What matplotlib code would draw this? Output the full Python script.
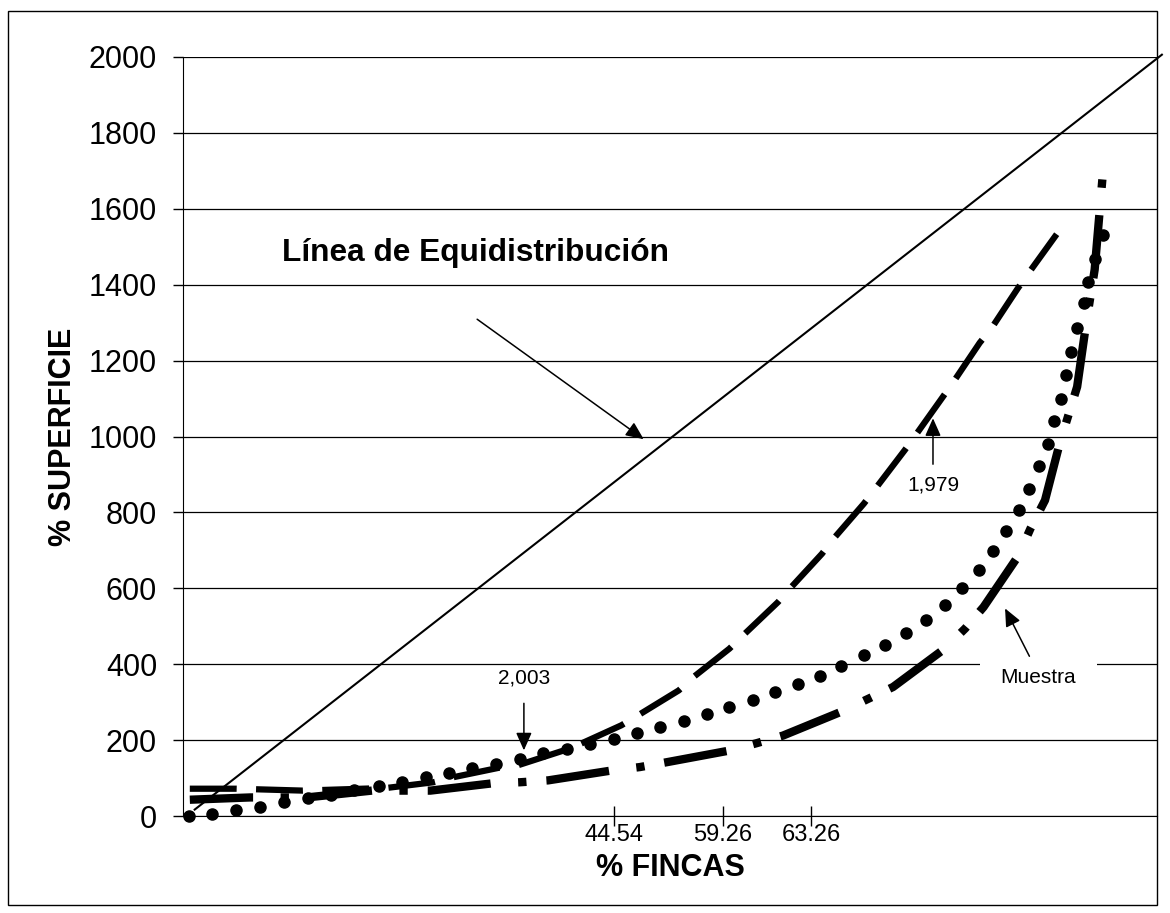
import matplotlib
matplotlib.use('Agg')
import matplotlib.pyplot as plt
from matplotlib.patches import Rectangle

plt.rcParams['font.family'] = ['Liberation Sans', 'DejaVu Sans']

# linea de equidistribucion
equi_x = [1.2, 100.5]
equi_y = [17, 2006]

# curva 1,979 (trazo discontinuo)
c1979_x = [0.7, 5.5, 12.3, 20.9, 25.7, 27.7, 32.4, 34.3, 39.6, 40.8, 45.0, 46.7,
           50.9, 52.4, 56.1, 57.5, 61.1, 62.3, 65.6, 66.8, 69.9, 71.1, 74.1, 75.2,
           78.0, 79.1, 81.8, 83.0, 84.9, 85.7, 86.8, 89.7]
c1979_y = [72, 72, 67, 74, 89, 102, 127, 133, 177, 190, 239, 265,
           331, 366, 441, 476, 564, 599, 691, 731, 823, 863, 964, 1003,
           1104, 1144, 1247, 1285, 1359, 1390, 1430, 1533]

# curva 2,003 (puntos)
c2003_x = [0.65, 3.0, 5.4, 7.9, 10.4, 12.8, 15.2, 17.6, 20.1, 22.5, 24.9, 27.3,
           29.7, 32.1, 34.6, 37.0, 39.4, 41.8, 44.2, 46.6, 49.0, 51.4, 53.8, 56.1,
           58.5, 60.8, 63.1, 65.4, 67.6, 69.9, 72.1, 74.2, 76.3, 78.2, 80.0, 81.7,
           83.2, 84.5, 85.8, 86.9, 87.9, 88.8, 89.4, 90.1, 90.7, 91.2, 91.8, 92.5,
           92.9, 93.6, 94.5]
c2003_y = [0, 6, 16, 25, 36, 47, 56, 69, 79, 91, 102, 114,
           126, 138, 151, 166, 177, 190, 204, 219, 234, 250, 270, 287,
           306, 326, 347, 370, 395, 423, 451, 483, 517, 557, 601, 647,
           698, 751, 806, 863, 922, 981, 1042, 1100, 1162, 1223, 1285, 1351,
           1408, 1469, 1531]

# muestra (raya y punto)
muestra_x = [0.7, 6.9, 12.7, 19.4, 25.4, 31.7, 34.6, 37.5, 44.0, 46.9, 49.7, 56.2,
             58.9, 61.6, 67.5, 72.9, 78.2, 80.3, 82.2, 85.8, 87.0, 88.5, 90.0, 90.9,
             91.8, 92.7, 93.6, 94.4]
muestra_y = [43, 49, 49, 67, 67, 86, 89, 94, 120, 129, 142, 173,
             192, 212, 274, 340, 441, 494, 551, 687, 757, 832, 981, 1056,
             1131, 1293, 1440, 1681]

fincas_ticks = [44.3, 55.4, 64.5]
fincas_labels = ['44.54', '59.26', '63.26']
sup_ticks = list(range(0, 2001, 200))

fig = plt.figure(figsize=(11.7, 9.13), dpi=100)
ax = fig.add_axes([0.1564, 0.1062, 0.8325, 0.8314])

ax.plot(equi_x, equi_y, color='black', lw=1.5, clip_on=False)
ax.plot(c1979_x, c1979_y, color='black', lw=4.5, dashes=(7.5, 3.1))
ax.plot(muestra_x, muestra_y, color='black', lw=6.0, dashes=(7.6, 3.3, 1.0, 2.4))
ax.plot(c2003_x, c2003_y, 'o', color='black', ms=8, clip_on=False)

ax.set_xlim(0, 100)
ax.set_ylim(0, 2000)
ax.set_yticks(sup_ticks)
ax.set_xticks(fincas_ticks)
ax.set_xticklabels(fincas_labels)
ax.yaxis.grid(True, color='black', lw=0.9)
ax.set_axisbelow(True)
ax.spines['top'].set_visible(False)
ax.spines['right'].set_visible(False)
ax.tick_params(axis='y', direction='out', length=7.2, width=1, pad=11.5, labelsize=22)
ax.tick_params(axis='x', direction='inout', length=14.4, width=1, pad=-1.8, labelsize=17)

ax.set_ylabel('% SUPERFICIE', fontsize=22, fontweight='bold')
ax.yaxis.set_label_coords(-0.123, 0.5)
ax.yaxis.label.set_va('center')
ax.set_xlabel('% FINCAS', fontsize=22, fontweight='bold')
ax.xaxis.set_label_coords(0.5, -0.0685)
ax.xaxis.label.set_va('center')

arrow = dict(arrowstyle='-|>,head_length=0.9,head_width=0.4', mutation_scale=12,
             lw=1.1, color='black', shrinkA=0, shrinkB=0)

ax.text(10.2, 1483, 'Línea de Equidistribución', fontsize=22.8, fontweight='bold',
        ha='left', va='center')
ax.annotate('', xy=(47.3, 993), xytext=(30.2, 1309), arrowprops=arrow)

ax.text(35.0, 365, '2,003', fontsize=15, ha='center', va='center')
ax.annotate('', xy=(35.0, 173), xytext=(35.0, 297), arrowprops=arrow)

ax.text(77.0, 872, '1,979', fontsize=15, ha='center', va='center')
ax.annotate('', xy=(77.0, 1048), xytext=(77.0, 927), arrowprops=arrow)

ax.text(87.8, 365, 'Muestra', fontsize=15, ha='center', va='center', zorder=4,
        bbox=dict(boxstyle='square,pad=1.0', fc='white', ec='none'))
ax.annotate('', xy=(84.4, 547), xytext=(86.9, 421), arrowprops=arrow, zorder=5)

# marco exterior
fig.add_artist(Rectangle((0.0068, 0.0088), 0.982, 0.979, transform=fig.transFigure,
                         fill=False, lw=1, ec='black'))

fig.savefig('out.png', dpi=100)
